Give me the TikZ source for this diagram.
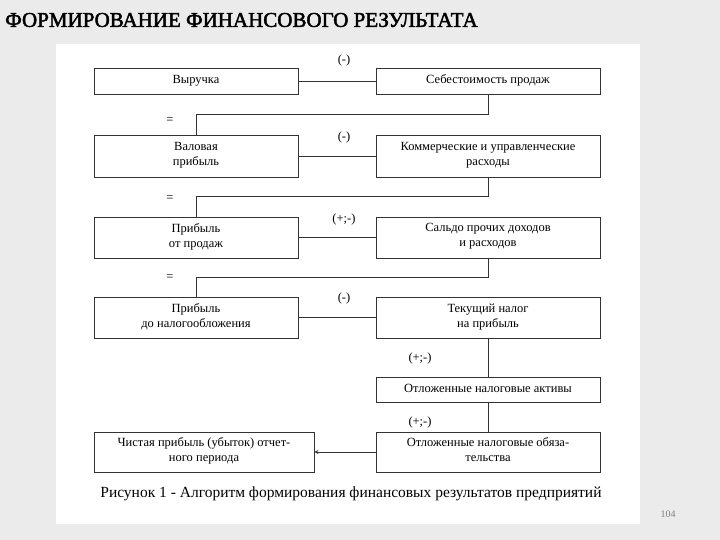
\documentclass[tikz,border=0pt]{standalone}
\usepackage{fontspec}
\setmainfont{Liberation Serif}
\newfontfamily\ttlfont{Liberation Serif}[FakeBold=2.2]
\begin{document}
\begin{tikzpicture}[x=1pt,y=-1pt,
  bx/.style={draw=black!80,line width=0.8pt,fill=white,align=center,font=\fontsize{12.5}{15}\selectfont,inner sep=0pt},
  ln/.style={draw=black!80,line width=0.8pt},
  lb/.style={font=\fontsize{12.5}{15}\selectfont}]
\fill[blue!4!black!8] (0,0) rectangle (720,540);
\fill[white] (56,44) rectangle (640,524);
\useasboundingbox (0,0) rectangle (720,540);
\node[font=\ttlfont\fontsize{21}{24}\selectfont,anchor=west,inner sep=0pt] (title) at (5,20) {ФОРМИРОВАНИЕ ФИНАНСОВОГО РЕЗУЛЬТАТА};
\node[font=\fontsize{10}{12}\selectfont,text=black!50] (pg) at (668,514) {104};
\node[bx,minimum width=204,minimum height=26] (a1) at (196,81) {\strut Выручка};
\node[bx,minimum width=224,minimum height=26] (b1) at (488,81) {\strut Себестоимость продаж};
\node[bx,minimum width=204,minimum height=42] (a2) at (196,156) {Валовая\\прибыль\strut};
\node[bx,minimum width=224,minimum height=42] (b2) at (488,156) {Коммерческие и управленческие\\расходы\strut};
\node[bx,minimum width=204,minimum height=41] (a3) at (196,237.5) {Прибыль\\от продаж\strut};
\node[bx,minimum width=224,minimum height=41] (b3) at (488,237.5) {Сальдо прочих доходов\\и расходов\strut};
\node[bx,minimum width=204,minimum height=41] (a4) at (196,317.5) {Прибыль\\до налогообложения\strut};
\node[bx,minimum width=224,minimum height=41] (b4) at (488,317.5) {Текущий налог\\на прибыль\strut};
\node[bx,minimum width=224,minimum height=25] (b5) at (488,389.5) {\strut Отложенные налоговые активы};
\node[bx,minimum width=224,minimum height=40] (b6) at (488,452) {Отложенные налоговые обяза-\\тельства\strut};
\node[bx,minimum width=220,minimum height=40] (a6) at (204,452) {Чистая прибыль (убыток) отчет-\\ного периода\strut};
\draw[ln] (a1.east) -- (b1.west);
\draw[ln] (a2.east) -- (b2.west);
\draw[ln] (a3.east) -- (b3.west);
\draw[ln] (a4.east) -- (b4.west);
\draw[ln] (b1.south) -- ++(0,20) -| (a2.north);
\draw[ln] (b2.south) -- ++(0,19) -| (a3.north);
\draw[ln] (b3.south) -- ++(0,19) -| (a4.north);
\draw[ln] (b4.south) -- (b5.north);
\draw[ln] (b5.south) -- (b6.north);
\draw[ln,-stealth] (b6.west) -- (a6.east);
\node[lb] (m1) at (344,60) {(-)};
\node[lb] (m2) at (344,137) {(-)};
\node[lb] (m3) at (344,219) {(+;-)};
\node[lb] (m4) at (344,298) {(-)};
\node[lb] (m5) at (420,358) {(+;-)};
\node[lb] (m6) at (420,422) {(+;-)};
\node[lb] (e1) at (170,121) {=};
\node[lb] (e2) at (170,199) {=};
\node[lb] (e3) at (170,278) {=};
\node[font=\fontsize{15.5}{18}\selectfont] (cap) at (351,494) {Рисунок 1 - Алгоритм формирования финансовых результатов предприятий};
\end{tikzpicture}
\end{document}
